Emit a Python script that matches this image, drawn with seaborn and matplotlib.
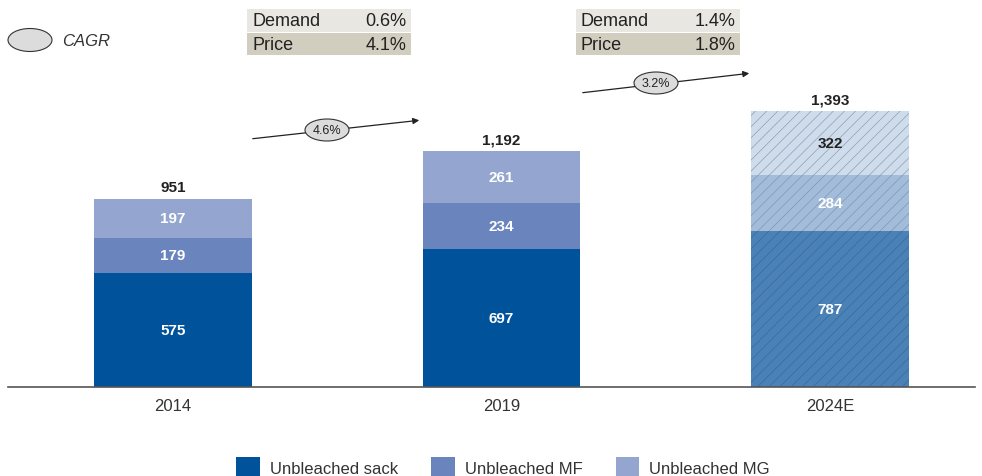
import matplotlib
matplotlib.use("Agg")
import matplotlib.pyplot as plt
from matplotlib.patches import Patch, Ellipse
import seaborn as sns
import numpy as np
import pandas as pd

years = ["2014", "2019", "2024E"]
sack = [575, 697, 787]
mf = [179, 234, 284]
mg = [197, 261, 322]
totals = [951, 1192, 1393]
series_names = ["Unbleached sack", "Unbleached MF", "Unbleached MG"]
cagr_labels = ["4.6%", "3.2%"]
demand = ["0.6%", "1.4%"]
price = ["4.1%", "1.8%"]

sns.set_theme(style="white")
plt.rcParams['font.family'] = ['Liberation Sans', 'DejaVu Sans']
plt.rcParams['hatch.linewidth'] = 0.5

fig = plt.figure(figsize=(9.82, 4.77), dpi=100)
ax = fig.add_axes([8/982, (477-388)/477, 967/982, 388/477])

colors = ["#00529B", "#6A84BE", "#94A6D0"]
colors_e = ["#4A82B8", "#A2BCD9", "#CEDCEC"]
hatch_col = ["#3A6A96", "#7F98B4", "#8FA0B4"]

cum_sack = np.array(sack)
cum_mf = cum_sack + np.array(mf)
cum_mg = cum_mf + np.array(mg)
layers = [(cum_mg, 2), (cum_mf, 1), (cum_sack, 0)]

for cum, i in layers:
    df = pd.DataFrame({"year": years, "v": cum})
    n0 = len(ax.patches)
    sns.barplot(data=df, x="year", y="v", hue="year",
                palette=[colors[i], colors[i], colors_e[i]],
                dodge=False, legend=False, width=0.48, saturation=1, ax=ax,
                linewidth=0)
    new = ax.patches[n0:]
    p = new[2]
    p.set_hatch("///")
    p.set_edgecolor(hatch_col[i])
    p.set_linewidth(0)

ax.set_ylim(0, 1960)
ax.set_xlim(-0.502, 2.441)
ax.set_ylabel("")
ax.set_xlabel("")
ax.set_yticks([])
for s in ["top", "right", "left"]:
    ax.spines[s].set_visible(False)
ax.spines["bottom"].set_color("#555555")
ax.spines["bottom"].set_linewidth(1.2)
ax.tick_params(axis="x", length=0, labelsize=12, colors="#333333", pad=8)

# segment labels
for k in range(3):
    bots = [0, sack[k], sack[k] + mf[k]]
    vals = [sack[k], mf[k], mg[k]]
    for j in range(3):
        col = "white"
        if k == 2 and j == 2:
            col = "#222222"
        ax.text(k, bots[j] + vals[j] / 2, f"{vals[j]:,}", ha="center", va="center",
                fontsize=11, fontweight="bold", color=col)
    ax.text(k, totals[k] + 25, f"{totals[k]:,}", ha="center", va="bottom",
            fontsize=11, fontweight="bold", color="#222222")

W, H = 982, 477
def fx(x): return x / W
def fy(y): return 1 - y / H

# CAGR legend
fig.patches.append(Ellipse((fx(30), fy(41)), 44 / W, 23 / H, transform=fig.transFigure,
                           facecolor="#DCDCDC", edgecolor="#333333", linewidth=0.8))
fig.text(fx(62), fy(41), "CAGR", fontsize=12, fontstyle="italic", va="center", ha="left",
         color="#333333")

# Demand/Price tables
for x0, d, p in [(247, demand[0], price[0]), (576, demand[1], price[1])]:
    fig.patches.append(plt.Rectangle((fx(x0), fy(33)), 164 / W, 23 / H, transform=fig.transFigure,
                                     facecolor="#E9E7E1", edgecolor="none"))
    fig.patches.append(plt.Rectangle((fx(x0), fy(56)), 164 / W, 22 / H, transform=fig.transFigure,
                                     facecolor="#D1CDBF", edgecolor="none"))
    fig.text(fx(x0 + 5), fy(21.5), "Demand", fontsize=13, va="center", ha="left", color="#222222")
    fig.text(fx(x0 + 159), fy(21.5), d, fontsize=13, va="center", ha="right", color="#222222")
    fig.text(fx(x0 + 5), fy(45), "Price", fontsize=13, va="center", ha="left", color="#222222")
    fig.text(fx(x0 + 159), fy(45), p, fontsize=13, va="center", ha="right", color="#222222")

# CAGR arrows
for (x1, y1, x2, y2, cx, cy), lab in zip([(250, 140, 422, 121, 327, 131),
                                          (580, 94, 752, 74, 656, 84)], cagr_labels):
    fig.add_artist(matplotlib.patches.FancyArrowPatch((fx(x1), fy(y1)), (fx(x2), fy(y2)),
                   transform=fig.transFigure, arrowstyle="-|>", mutation_scale=9,
                   color="#222222", linewidth=0.9))
    fig.patches.append(Ellipse((fx(cx), fy(cy)), 44 / W, 22 / H, transform=fig.transFigure,
                               facecolor="#DCDCDC", edgecolor="#333333", linewidth=0.8, zorder=5))
    fig.text(fx(cx), fy(cy), lab, fontsize=9, va="center", ha="center", color="#222222", zorder=6)

handles = [Patch(facecolor=c, edgecolor="none") for c in colors]
fig.legend(handles, series_names, loc="center", bbox_to_anchor=(fx(503), fy(468)), ncol=3,
           frameon=False, fontsize=12, handlelength=1.4, handleheight=1.4, columnspacing=2.0,
           handletextpad=0.6, labelcolor="#333333")

fig.savefig("out.png", dpi=100)
